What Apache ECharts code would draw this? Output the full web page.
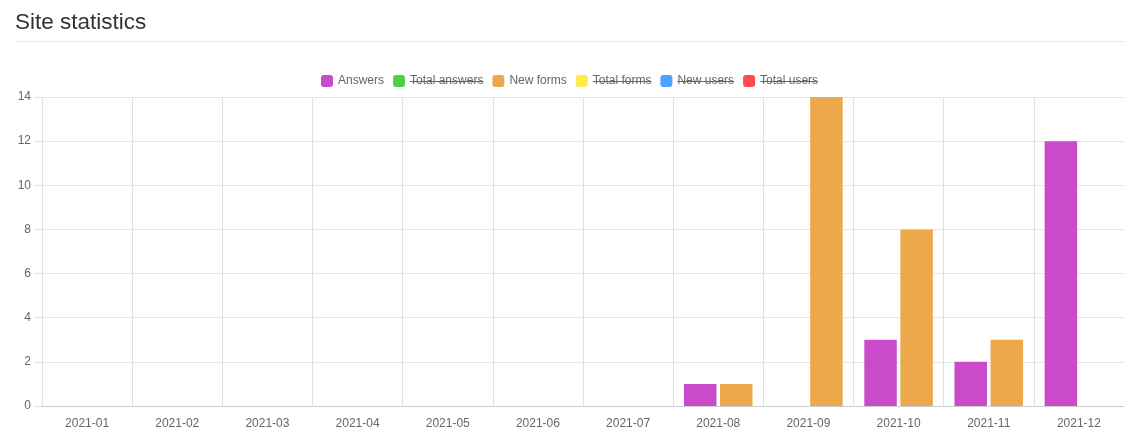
<!DOCTYPE html>
<html>
<head>
<meta charset="utf-8">
<script src="https://cdn.jsdelivr.net/npm/echarts@6/dist/echarts.min.js"></script>
<style>
html,body{margin:0;padding:0;background:#fff;}
#c{width:1148px;height:443px;}
</style>
</head>
<body>
<div id="c"></div>
<script>
const categories = ['2021-01','2021-02','2021-03','2021-04','2021-05','2021-06','2021-07','2021-08','2021-09','2021-10','2021-11','2021-12'];
const answers = [0,0,0,0,0,0,0,1,0,3,2,12];
const newForms = [0,0,0,0,0,0,0,1,14,8,3,0];
const totalAnswers = [];
const totalForms = [];
const newUsers = [];
const totalUsers = [];
const yTicks = [0,2,4,6,8,10,12,14];
const hiddenNames = ['Total answers','Total forms','New users','Total users'];

const chart = echarts.init(document.getElementById('c'));
const font = '"Liberation Sans", Arial, Helvetica, sans-serif';
const grid = {left:42, right:24, top:97, bottom:37};
const barW = 32.5;
const ruleLine = {type:'line', shape:{x1:15,y1:41.5,x2:1125,y2:41.5}, style:{stroke:'#e8e8e8', lineWidth:1}};
chart.setOption({
  animation:false,
  textStyle:{fontFamily:font},
  title:{text:'Site statistics', left:10, top:6, textStyle:{fontSize:22.5, fontWeight:'normal', color:'#333', fontFamily:font}},
  legend:{
    top:70, left:316, itemWidth:12, itemHeight:12, itemGap:9, icon:'roundRect',
    textStyle:{color:'#666', fontSize:12, fontFamily:font},
    data:['Answers','Total answers','New forms','Total forms','New users','Total users']
  },
  grid:grid,
  xAxis:{
    type:'category', data:categories, boundaryGap:true,
    axisLine:{lineStyle:{color:'#ccc'}},
    axisTick:{length:5, lineStyle:{color:'#ddd'}},
    axisLabel:{color:'#666', fontSize:12, margin:12},
    splitLine:{show:true, showMaxLine:false, lineStyle:{color:'#e1e1e1'}}
  },
  yAxis:{
    type:'value', min:0, max:14, interval:2,
    axisLine:{show:false},
    axisTick:{show:true, length:8, lineStyle:{color:'#e1e1e1'}},
    axisLabel:{color:'#666', fontSize:12, margin:11, formatter:v=>yTicks.includes(v)?String(v):''},
    splitLine:{lineStyle:{color:'#e6e6e6'}}
  },
  series:[
    {name:'Answers', type:'bar', stack:'a', data:answers, barWidth:barW, barGap:'11%', itemStyle:{color:'#c94bc9'}},
    {name:'Total answers', type:'bar', stack:'a', data:totalAnswers, barWidth:barW, itemStyle:{color:'#4bd04b'}},
    {name:'New forms', type:'bar', stack:'b', data:newForms, barWidth:barW, barGap:'11%', itemStyle:{color:'#eda84c'}},
    {name:'Total forms', type:'bar', stack:'b', data:totalForms, barWidth:barW, itemStyle:{color:'#ffe94b'}},
    {name:'New users', type:'bar', stack:'b', data:newUsers, barWidth:barW, itemStyle:{color:'#4ba3ff'}},
    {name:'Total users', type:'bar', stack:'b', data:totalUsers, barWidth:barW, itemStyle:{color:'#ff4b4b'}}
  ],
  graphic:[ruleLine]
});

// strike-through lines over hidden legend entries, measured from the rendered legend
function addStrikes(){
  const legendView = chart.getViewOfComponentModel(chart.getModel().getComponent('legend'));
  const els = [];
  if (legendView) {
    legendView.group.traverse(function(el){
      if (el.type === 'text' && el.style && hiddenNames.includes(el.style.text)) {
        const r = el.getBoundingRect().clone();
        r.applyTransform(el.getComputedTransform());
        const y = Math.round(r.y + r.height/2) + 0.5;
        els.push({type:'line', shape:{x1:r.x, y1:y, x2:r.x+r.width, y2:y}, style:{stroke:'#666', lineWidth:1}});
      }
    });
  }
  chart.setOption({graphic:[ruleLine].concat(els)}, {replaceMerge:['graphic']});
}
addStrikes();
</script>
</body>
</html>
